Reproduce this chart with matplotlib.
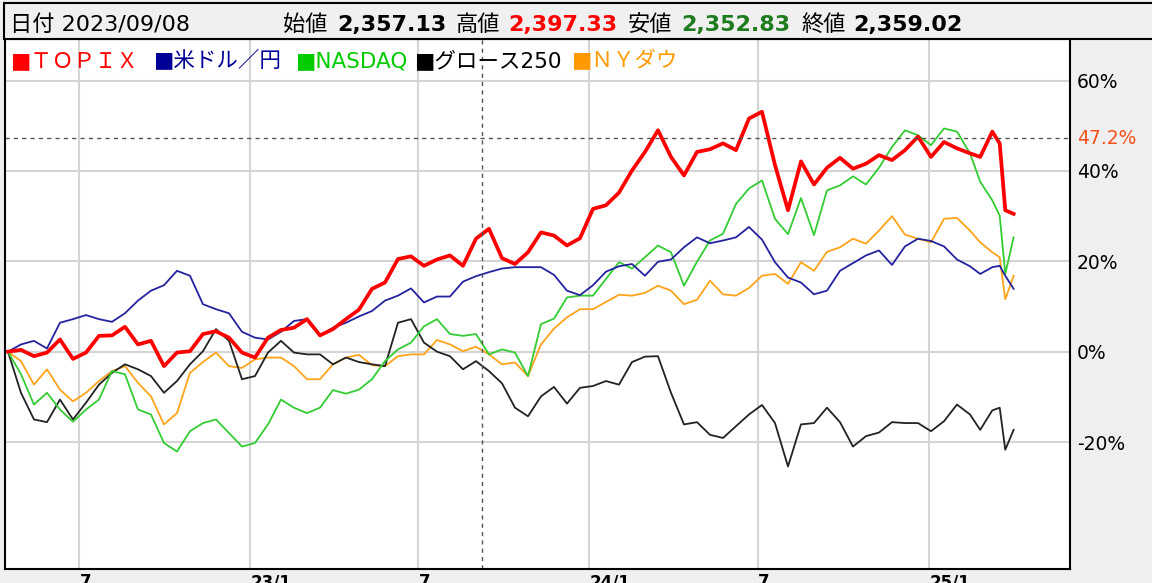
import pandas as pd
import matplotlib.pyplot as plt
from matplotlib.patches import Rectangle

plt.rcParams['font.family'] = ['DejaVu Sans', 'Noto Sans CJK JP']

W, H = 1152, 583

# --- data: % change since start (biweekly, last weeks denser) ---
dates = list(pd.date_range('2022-04-15', periods=75, freq='14D')) + \
    list(pd.to_datetime(['2025-02-25', '2025-03-10', '2025-03-18', '2025-03-24', '2025-04-02']))

topix = [0, 0.4, -1.0, -0.2, 2.7, -1.6, -0.2, 3.5, 3.6, 5.5,
         1.6, 2.4, -3.2, -0.2, 0.1, 3.9, 4.5, 3.1, -0.2, -1.3,
         3.1, 4.8, 5.3, 7.2, 3.6, 5.0, 7.2, 9.3, 13.9, 15.3,
         20.5, 21.1, 19.0, 20.4, 21.3, 19.0, 25.0, 27.2, 20.7, 19.4,
         22.0, 26.4, 25.7, 23.5, 25.1, 31.6, 32.4, 35.2, 40.1, 44.2,
         49.0, 43.1, 39.0, 44.2, 44.8, 46.1, 44.6, 51.6, 53.1, 41.3,
         31.3, 42.1, 37.0, 40.7, 42.9, 40.5, 41.6, 43.5, 42.4, 44.6,
         47.6, 43.1, 46.4, 45.0, 43.9,
         43.1, 48.7, 46.1, 31.3, 30.5]

usdjpy = [0, 1.6, 2.4, 0.7, 6.4, 7.2, 8.1, 7.2, 6.6, 8.5,
          11.3, 13.5, 14.7, 17.9, 16.8, 10.5, 9.4, 8.5, 4.4, 3.1,
          2.7, 4.4, 6.8, 7.2, 3.5, 5.3, 6.4, 7.8, 9.0, 11.3,
          12.4, 14.0, 10.9, 12.2, 12.2, 15.5, 16.7, 17.6, 18.4, 18.7,
          18.7, 18.7, 17.0, 13.5, 12.5, 14.7, 17.7, 18.9, 19.4, 16.8,
          19.9, 20.4, 23.1, 25.3, 24.0, 24.6, 25.3, 27.6, 24.8, 19.8,
          16.4, 15.3, 12.7, 13.5, 17.9, 19.6, 21.3, 22.4, 19.2, 23.3,
          25.0, 24.5, 23.3, 20.4, 18.9,
          17.2, 18.7, 19.0, 16.8, 13.9]

nasdaq = [0, -5.0, -11.7, -9.1, -12.8, -15.5, -12.8, -10.6, -4.3, -5.0,
          -12.8, -13.9, -20.2, -22.1, -17.6, -15.8, -15.0, -18.0, -21.0, -20.2,
          -16.1, -10.6, -12.4, -13.6, -12.4, -8.5, -9.3, -8.4, -6.1, -2.1,
          0.5, 2.0, 5.6, 7.2, 3.9, 3.5, 3.9, -0.6, 0.5, -0.2,
          -5.4, 6.1, 7.3, 12.0, 12.4, 12.4, 16.1, 19.8, 18.4, 20.9,
          23.5, 22.0, 14.6, 19.9, 24.6, 26.1, 32.7, 36.1, 37.9, 29.4,
          26.0, 34.0, 25.8, 35.7, 36.8, 38.8, 37.0, 40.7, 45.3, 49.0,
          47.9, 45.7, 49.4, 48.7, 43.9,
          37.6, 33.5, 30.1, 17.2, 25.3]

growth = [0, -9.1, -15.0, -15.6, -10.6, -15.0, -11.3, -7.3, -4.7, -2.8,
          -3.9, -5.4, -9.1, -6.5, -2.8, 0.1, 5.0, 2.4, -6.1, -5.4,
          -0.2, 2.4, -0.2, -0.6, -0.6, -2.8, -1.3, -2.3, -2.8, -3.2,
          6.4, 7.2, 2.0, 0.0, -1.0, -3.9, -2.1, -4.3, -7.0, -12.4,
          -14.3, -9.9, -7.8, -11.5, -8.0, -7.6, -6.5, -7.3, -2.3, -1.1,
          -1.0, -9.1, -16.1, -15.6, -18.4, -19.1, -16.5, -13.9, -11.8, -15.8,
          -25.4, -16.1, -15.8, -12.4, -15.6, -21.0, -18.7, -17.9, -15.6, -15.8,
          -15.8, -17.6, -15.4, -11.7, -13.9,
          -17.3, -13.0, -12.4, -21.7, -17.3]

nydow = [0, -2.1, -7.3, -3.9, -8.4, -11.0, -9.1, -6.5, -4.3, -3.2,
         -6.9, -9.9, -16.1, -13.6, -4.7, -2.3, -0.2, -3.2, -3.6, -1.7,
         -1.3, -1.3, -3.2, -6.1, -6.1, -2.8, -1.3, -0.7, -3.0, -3.2,
         -1.0, -0.6, -0.6, 2.6, 1.6, 0.1, 1.1, -0.6, -2.8, -2.4,
         -5.4, 1.6, 5.1, 7.6, 9.4, 9.4, 11.0, 12.6, 12.4, 13.0,
         14.6, 13.5, 10.5, 11.5, 15.7, 12.7, 12.4, 14.1, 16.8, 17.2,
         15.0, 19.8, 17.9, 22.1, 23.1, 25.0, 23.9, 26.8, 30.0, 25.9,
         25.0, 24.2, 29.4, 29.6, 26.8,
         24.2, 22.0, 20.9, 11.6, 16.8]

legend_labels = ['■ＴＯＰＩＸ', '■米ドル／円', '■NASDAQ', '■グロース250', '■ＮＹダウ']
legend_colors = ['#ff0000', '#000099', '#00cc00', '#000000', '#ff9900']

xtick_dates = pd.to_datetime(['2022-07-01', '2023-01-01', '2023-07-01',
                              '2024-01-01', '2024-07-01', '2025-01-01'])
xtick_labels = ['7', '23/1', '7', '24/1', '7', '25/1']
ytick_vals = [-20, 0, 20, 40, 60]
ytick_labels = ['-20%', '0%', '20%', '40%', '60%']

cursor_date = pd.Timestamp('2023-09-08')
cursor_pct = 47.2

# --- figure ---
fig = plt.figure(figsize=(W / 100, H / 100), dpi=100, facecolor='#efefef')

def fx(x):
    return x / W

def fy(y):
    return 1 - y / H

# header box
fig.patches.append(Rectangle((fx(4), fy(39)), 1.0, 36 / H, transform=fig.transFigure,
                             fc='#f0f0f0', ec='black', lw=1.5, zorder=0))

hdr = 16
fig.text(fx(10), fy(31), '日付 2023/09/08', fontsize=hdr, va='baseline')
fig.text(fx(283), fy(31), '始値', fontsize=hdr, va='baseline')
fig.text(fx(337), fy(31), '2,357.13', fontsize=hdr, va='baseline', weight='bold')
fig.text(fx(456), fy(31), '高値', fontsize=hdr, va='baseline')
fig.text(fx(508), fy(31), '2,397.33', fontsize=hdr, va='baseline', weight='bold', color='#ff0000')
fig.text(fx(628), fy(31), '安値', fontsize=hdr, va='baseline')
fig.text(fx(681), fy(31), '2,352.83', fontsize=hdr, va='baseline', weight='bold', color='#1e7b1e')
fig.text(fx(801), fy(31), '終値', fontsize=hdr, va='baseline')
fig.text(fx(853), fy(31), '2,359.02', fontsize=hdr, va='baseline', weight='bold')

# main axes
ax = fig.add_axes([fx(5), (H - 569) / H, (1070 - 5) / W, (569 - 39) / H])
ax.set_facecolor('white')

start = pd.Timestamp('2022-04-15')
ax.set_xlim(start - pd.Timedelta(days=3.2), start + pd.Timedelta(days=1143.7))
ax.set_ylim(-48.1, 69.2)

ax.plot(dates, nydow, color='#ffa31a', lw=1.3)
ax.plot(dates, growth, color='#222222', lw=1.3)
ax.plot(dates, nasdaq, color='#33cc33', lw=1.3)
ax.plot(dates, usdjpy, color='#2323a0', lw=1.3)
ax.plot(dates, topix, color='#ff0000', lw=2.7, solid_joinstyle='round')

ax.set_yticks(ytick_vals)
ax.set_yticklabels(ytick_labels)
ax.set_xticks(xtick_dates)
ax.set_xticklabels(xtick_labels, weight='bold')
for lab in ax.get_xticklabels():
    lab.set_ha('left')
ax.yaxis.tick_right()
ax.tick_params(axis='y', length=0, pad=5, labelsize=13.5)
ax.tick_params(axis='x', length=0, pad=3, labelsize=12)
ax.grid(True, color='#d4d4d4', lw=1.5)
ax.set_axisbelow(True)
for s in ax.spines.values():
    s.set_color('black')
    s.set_linewidth(1.5)

# cursor lines
ax.axvline(cursor_date, color='#555555', lw=1, ls=(0, (3, 3)))
ax.axhline(cursor_pct, color='#555555', lw=1, ls=(0, (3, 3)))
ax.text(1.0066, cursor_pct, '47.2%', transform=ax.get_yaxis_transform(),
        color='#f4511e', fontsize=13.5, va='center', ha='left')

# legend row
legend_x = [10, 153, 295, 414, 571]
for lab, col, x in zip(legend_labels, legend_colors, legend_x):
    fig.text(fx(x), fy(67), lab, color=col, fontsize=15.5, va='baseline')

fig.savefig('out.png', dpi=100, facecolor=fig.get_facecolor())
